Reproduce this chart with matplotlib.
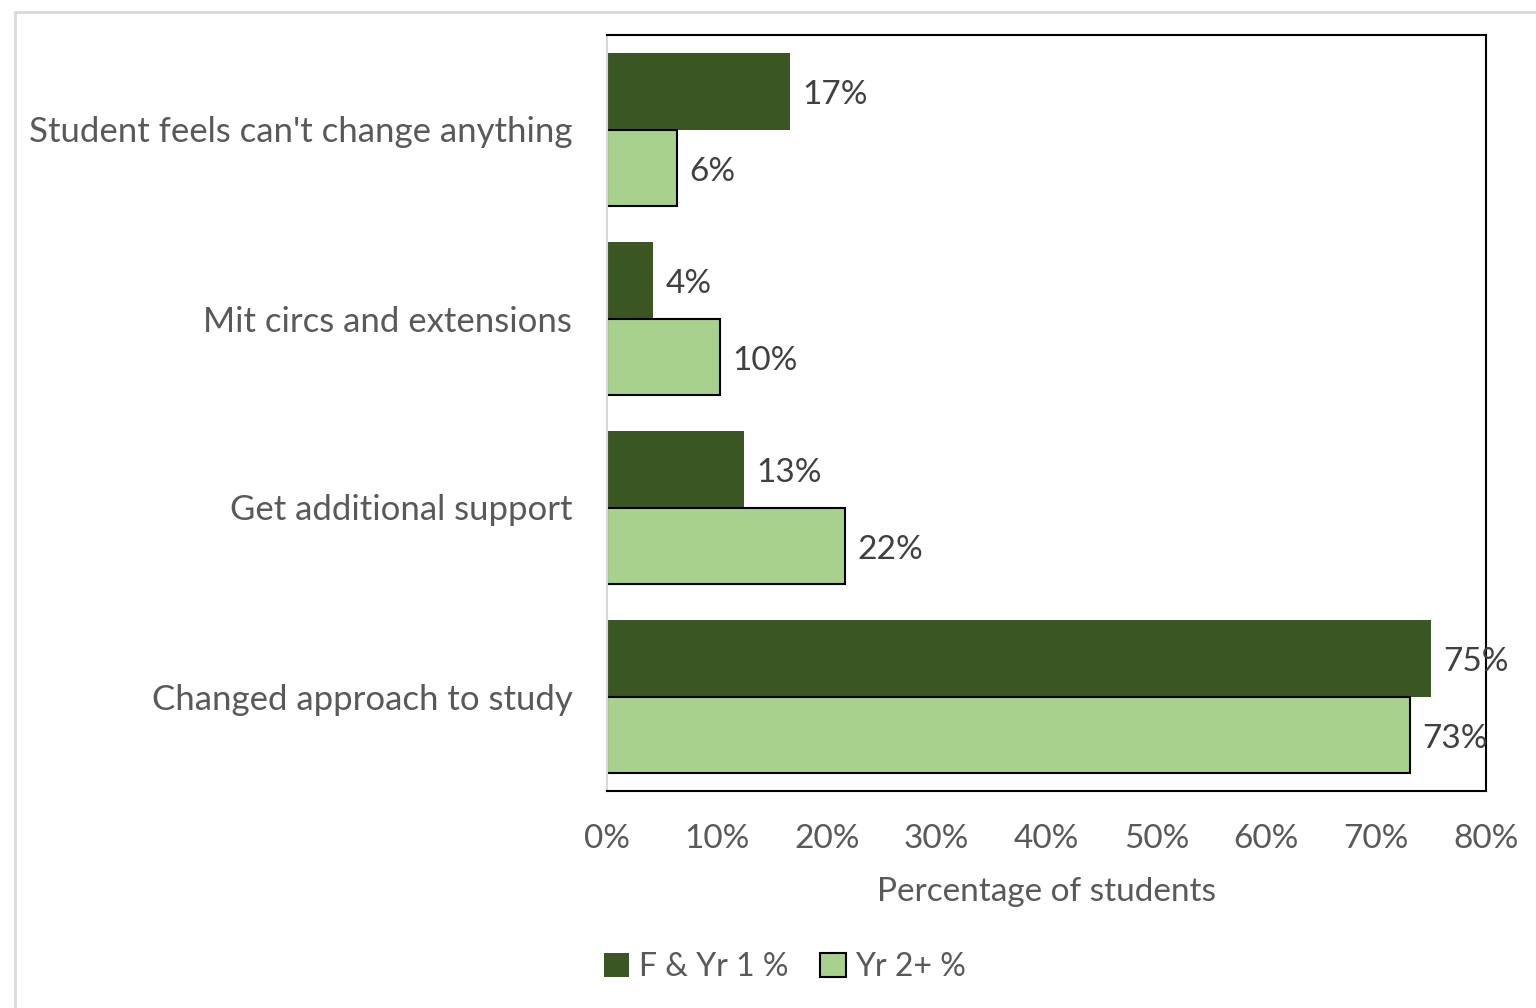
import matplotlib.pyplot as plt
from matplotlib.patches import Rectangle
import numpy as np

plt.rcParams['font.family'] = ['Lato', 'DejaVu Sans']

# data (top to bottom as shown)
categories = ["Student feels can't change anything", "Mit circs and extensions",
              "Get additional support", "Changed approach to study"]
yr1 = [16.7, 4.2, 12.5, 75.0]
yr2 = [6.4, 10.3, 21.7, 73.1]
yr1_labels = ["17%", "4%", "13%", "75%"]
yr2_labels = ["6%", "10%", "22%", "73%"]
series_names = ["F & Yr 1 %", "Yr 2+ %"]

dark = '#3a5622'
light = '#a9d18e'
grey = '#595959'

fig = plt.figure(figsize=(15.36, 10.08), dpi=100)
# light chart border
fig.patches.append(Rectangle((15/1536, -0.1), 1.2, 1 - 12/1008 + 0.1, transform=fig.transFigure,
                             fill=False, edgecolor='#d9d9d9', linewidth=2))

ax = fig.add_axes([607/1536, 1 - 791/1008, (1486 - 607)/1536, (791 - 35)/1008])

y = np.arange(len(categories))[::-1].astype(float)
h = 0.405
b1 = ax.barh(y + h/2, yr1, height=h, color=dark, edgecolor='none', label=series_names[0])
b2 = ax.barh(y - h/2, yr2, height=h, color=light, edgecolor='black', linewidth=1.5,
             label=series_names[1])

for bars, labs in ((b1, yr1_labels), (b2, yr2_labels)):
    for bar, lab in zip(bars, labs):
        ax.text(bar.get_width() + 1.1, bar.get_y() + bar.get_height()/2 - 0.02, lab,
                va='center', ha='left', fontsize=24, color='#404040')

ax.set_xlim(0, 80)
ax.set_ylim(-0.5, 3.5)
ax.set_yticks(y)
ax.set_yticklabels(categories, fontsize=25, color=grey)
ax.set_xticks(np.arange(0, 81, 10))
ax.set_xticklabels([f"{v}%" for v in range(0, 81, 10)], fontsize=24, color=grey)
ax.tick_params(axis='both', length=0)
ax.tick_params(axis='y', pad=25)
ax.tick_params(axis='x', pad=24)
ax.set_xlabel("Percentage of students", fontsize=24, color=grey, labelpad=16)

for s in ['top', 'right', 'bottom']:
    ax.spines[s].set_color('black')
    ax.spines[s].set_linewidth(1.5)
ax.spines['left'].set_color('#d9d9d9')
ax.spines['left'].set_linewidth(1.5)

leg = fig.legend(handles=[b1, b2], loc='center', bbox_to_anchor=(785/1536, 1 - 967/1008),
                 ncol=2, frameon=False, fontsize=23, handlelength=0.8, handleheight=0.8,
                 handletextpad=0.3, columnspacing=1.0)
for t in leg.get_texts():
    t.set_color(grey)

fig.savefig('out.png', dpi=100)
